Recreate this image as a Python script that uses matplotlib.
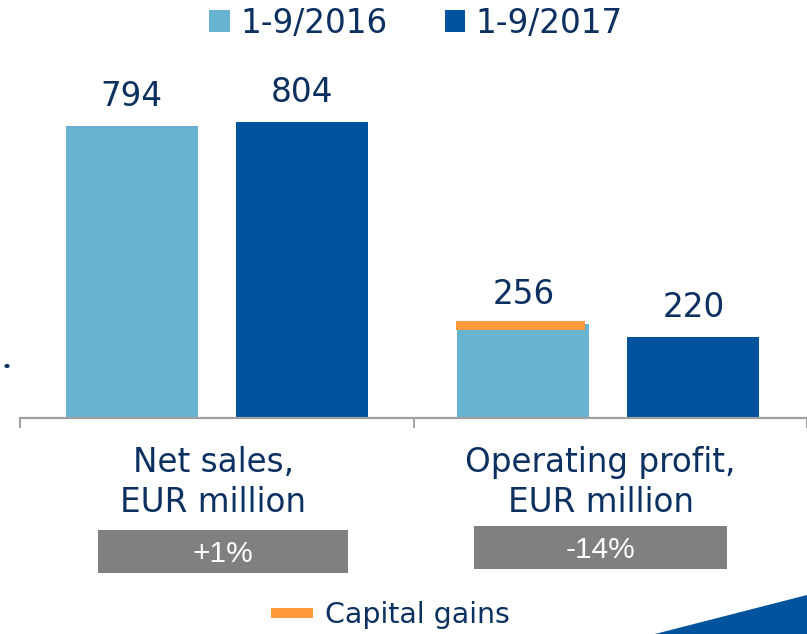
import matplotlib
matplotlib.use("Agg")
import matplotlib.pyplot as plt
from matplotlib.patches import Rectangle, Polygon, Patch, Circle
from matplotlib.lines import Line2D
import matplotlib.transforms as mtrans

# ---- data ----
categories = ["Net sales,\nEUR million", "Operating profit,\nEUR million"]
series_names = ["1-9/2016", "1-9/2017"]
values_2016 = [794, 256]
values_2017 = [804, 220]
changes = ["+1%", "-14%"]
capital_gains_label = "Capital gains"
capital_gains_band = [0, 24]   # orange band on the 2016 operating profit bar

# ---- style ----
C_LIGHT = "#68b3d1"
C_DARK = "#00539c"
C_ORANGE = "#ff9a3c"
C_TEXT = "#0c3060"
C_GRAY = "#808080"
C_AXIS = "#a0a0a0"

W, H = 807, 634
fig = plt.figure(figsize=(W / 100, H / 100), dpi=100)
fig.patch.set_facecolor("white")

def fx(px):
    return px / W

def fy(py):
    return 1 - py / H

base_px = 418
top_px = 60
ax = fig.add_axes([fx(20), fy(base_px), 1 - fx(20), (base_px - top_px) / H])
ax.set_xlim(0, 2)
ax.set_ylim(0, (base_px - top_px) / 0.368)

group_x = [0.5, 1.495]
off = 0.216
bw = 0.3355
x16 = [g - off for g in group_x]
x17 = [g + off for g in group_x]

ax.bar(x16, values_2016, width=bw, color=C_LIGHT, zorder=2)
ax.bar(x17, values_2017, width=bw, color=C_DARK, zorder=2)

# capital gains band
for xi, v, cg in zip(x16, values_2016, capital_gains_band):
    if cg > 0:
        ax.bar(xi - 0.006, cg, width=0.328, bottom=v - 16, color=C_ORANGE, zorder=3)

for xs, vs in ((x16, values_2016), (x17, values_2017)):
    for xi, v in zip(xs, vs):
        ax.annotate(f"{v}", (xi, v), xytext=(0, 14.4), textcoords="offset points",
                    ha="center", va="baseline", fontsize=23.5, color=C_TEXT,
                    family="DejaVu Sans")

for s in ("top", "right", "left"):
    ax.spines[s].set_visible(False)
ax.spines["bottom"].set_color(C_AXIS)
ax.spines["bottom"].set_linewidth(1.6)
ax.set_yticks([])
ax.set_xticks([0, 1, 2])
ax.set_xticklabels([])
ax.tick_params(axis="x", length=7.5, width=1.4, color=C_AXIS, direction="out")

# category labels (baseline of the last line)
bt = mtrans.blended_transform_factory(ax.transData, fig.transFigure)
label_cx = [0.4916, 1.4753]
for cx, lab in zip(label_cx, categories):
    ax.text(cx, fy(512), lab, transform=bt, ha="center", va="baseline",
            fontsize=23.5, color=C_TEXT, linespacing=1.28, family="DejaVu Sans",
            multialignment="center")

# change boxes
boxes = [(98, 530, 348, 573), (474, 526, 727, 569)]
for (x0, y0, x1, y1), txt in zip(boxes, changes):
    fig.patches.append(Rectangle((fx(x0), fy(y1)), fx(x1 - x0), (y1 - y0) / H,
                                 transform=fig.transFigure, facecolor=C_GRAY,
                                 edgecolor="none"))
    fig.text(fx((x0 + x1) / 2), fy((y0 + y1) / 2 + 2), txt, ha="center", va="center",
             color="white", fontsize=21.5, family="Liberation Sans")

# top legend
handles = [Patch(facecolor=C_LIGHT, edgecolor="none"), Patch(facecolor=C_DARK, edgecolor="none")]
leg = fig.legend(handles, series_names, loc="center", bbox_to_anchor=(fx(416), fy(23)),
                 ncol=2, frameon=False, fontsize=23.5, handlelength=0.62, handleheight=0.62,
                 handletextpad=0.33, columnspacing=1.75, borderpad=0, borderaxespad=0)
for t in leg.get_texts():
    t.set_color(C_TEXT)

# capital gains legend
leg2 = fig.legend([Line2D([0], [0], color=C_ORANGE, lw=7.2, solid_capstyle="butt")],
                  [capital_gains_label], loc="center", bbox_to_anchor=(fx(390), fy(615)),
                  frameon=False, fontsize=20.5, handlelength=1.5, handletextpad=0.4,
                  borderpad=0, borderaxespad=0)
for t in leg2.get_texts():
    t.set_color(C_TEXT)

# decorative corner triangle and dot
fig.patches.append(Polygon([(fx(655), fy(634)), (fx(807), fy(595)), (fx(807), fy(634))],
                           closed=True, transform=fig.transFigure, facecolor=C_DARK,
                           edgecolor="none"))
fig.patches.append(Circle((fx(7), fy(366)), 2.6 / W, transform=fig.transFigure,
                          facecolor=C_TEXT, edgecolor="none"))

fig.savefig("out.png", dpi=100, facecolor="white")
